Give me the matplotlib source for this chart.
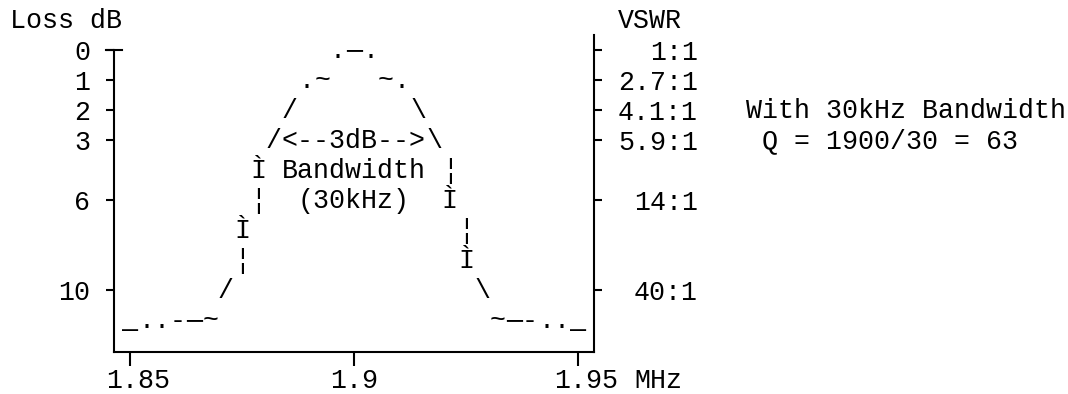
import matplotlib
matplotlib.use('Agg')
import matplotlib.pyplot as plt
from matplotlib.transforms import offset_copy, blended_transform_factory

# filter loss around 1.9 MHz, drawn like the old text-mode chart
freq_ticks = [1.85, 1.9, 1.95]
freq_labels = ['1.85', '1.9', '1.95']

# y axis is in chart rows, labelled with loss in dB and VSWR
loss_rows = [0, 1, 2, 3, 5, 8]
loss_labels = ['0', '1', '2', '3', '6', '10']
vswr_labels = ['1:1', '2.7:1', '4.1:1', '5.9:1', '14:1', '40:1']

# every character of the response curve: freq (MHz), row, glyph
curve_mhz = [1.85, 1.8536, 1.8571, 1.8607, 1.8643, 1.8679,
             1.8714, 1.875, 1.875, 1.8786, 1.8786, 1.8821, 1.8857, 1.8893, 1.8929,
             1.8964, 1.9, 1.9036,
             1.9071, 1.9107, 1.9143, 1.9179, 1.9214, 1.9214, 1.925, 1.925, 1.9286,
             1.9321, 1.9357, 1.9393, 1.9429, 1.9464, 1.95]
curve_row = [9, 9, 9, 9, 9, 9,
             8, 7, 6, 5, 4, 3, 2, 1, 1,
             0, 0, 0,
             1, 1, 2, 3, 4, 5, 6, 7, 8,
             9, 9, 9, 9, 9, 9]
curve_glyph = ['_', '.', '.', '-', '\u2500', '~',
               '/', '\u00a6', '\u00cc', '\u00a6', '\u00cc', '/', '/', '.', '~',
               '.', '\u2500', '.',
               '~', '.', '\\', '\\', '\u00a6', '\u00cc', '\u00a6', '\u00cc', '\\',
               '~', '\u2500', '-', '.', '.', '_']

# bandwidth note inside the curve
note_rows = [3, 4, 5]
note_text = ['<--3dB-->', 'Bandwidth', '(30kHz)']

FS = 19.2
W, H = 1068, 394
plt.rcParams['font.family'] = ['Liberation Mono', 'DejaVu Sans Mono']
plt.rcParams['font.size'] = FS

fig = plt.figure(figsize=(W / 100, H / 100), dpi=100)
ax = fig.add_axes([114 / W, 42 / H, 480 / W, 317 / H])

step = 0.05 / 14  # one character column
ax.set_xlim(1.85 - step, 1.95 + step)
ax.set_ylim(10.067, -0.5)

for s in ['top', 'right']:
    ax.spines[s].set_visible(False)
for s in ['left', 'bottom']:
    ax.spines[s].set_linewidth(1.5)
ax.spines['left'].set_bounds(10.067, 0)

ax.set_xticks(freq_ticks)
ax.tick_params(axis='x', length=10, width=1.5, labelbottom=False)
ax.set_yticks(loss_rows, loss_labels)
ax.tick_params(axis='y', length=5.76, width=1.5, pad=11.5, labelsize=FS)

# little cross bar on top of the left axis
tr = blended_transform_factory(ax.transAxes, ax.transData)
ax.plot([-8 / 480, 8 / 480], [0, 0], transform=tr, color='black', lw=1.5, clip_on=False)

ax2 = ax.twinx()
ax2.set_ylim(ax.get_ylim())
for s in ['top', 'left', 'bottom']:
    ax2.spines[s].set_visible(False)
ax2.spines['right'].set_linewidth(1.5)
ax2.set_yticks(loss_rows, vswr_labels, ha='right')
ax2.tick_params(axis='y', length=5.76, width=1.5, pad=69.1, labelsize=FS)

# glyphs sit on a baseline a bit under the row centre
glyph_tr = offset_copy(ax.transData, fig=fig, y=-8, units='dots')
for f, r, g in zip(curve_mhz, curve_row, curve_glyph):
    ax.text(f, r, g, transform=glyph_tr, ha='center', va='baseline', color='black')

for r, t in zip(note_rows, note_text):
    ax.text(1.9, r, t, transform=glyph_tr, ha='center', va='baseline', color='black')

label_tr = offset_copy(ax.transData, fig=fig, x=-24, y=-8, units='dots')
for f, t in zip(freq_ticks, freq_labels):
    ax.text(f, 11, t, transform=label_tr, ha='left', va='baseline', color='black')


def cell(col, row):
    return (10 + 16 * col) / W, (H - 58 - 30 * row) / H


for col, row, t in [(0, -1, 'Loss dB'), (38, -1, 'VSWR'), (39, 11, 'MHz'),
                    (46, 2, 'With 30kHz Bandwidth'), (47, 3, 'Q = 1900/30 = 63')]:
    x, y = cell(col, row)
    fig.text(x, y, t, ha='left', va='baseline', color='black')

fig.savefig('out.png', dpi=100, facecolor='white')
